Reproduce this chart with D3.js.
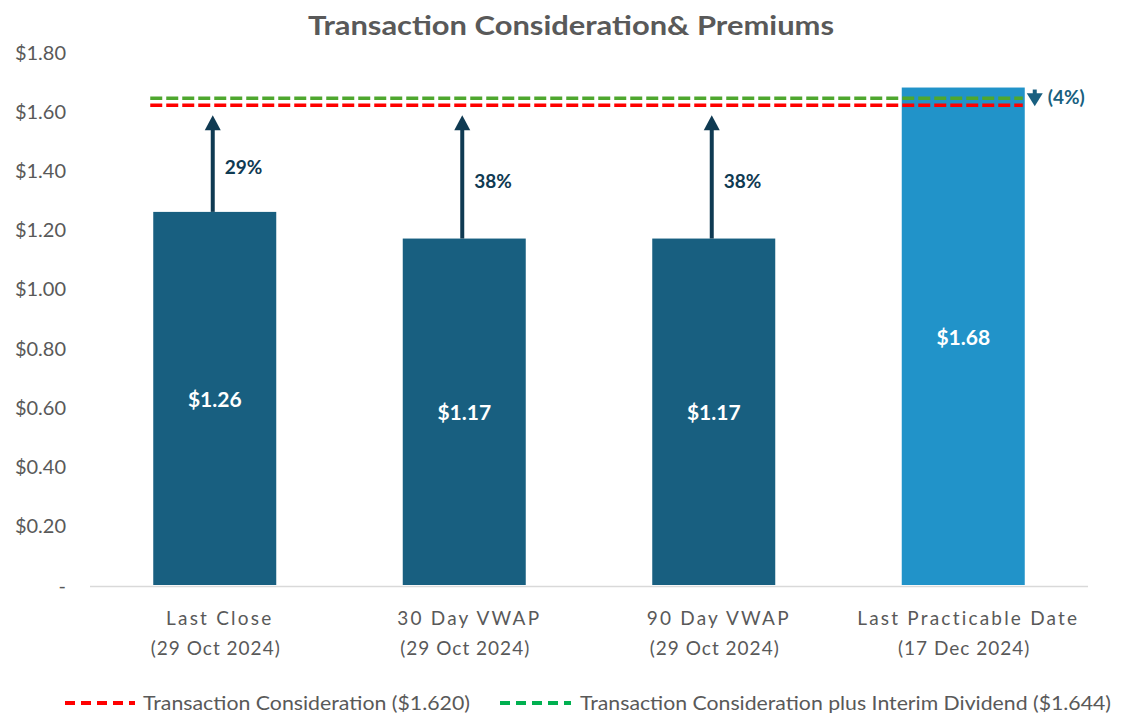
<!DOCTYPE html>
<html><head><meta charset="utf-8">
<script src="https://cdn.jsdelivr.net/npm/d3@7"></script>
<style>body{margin:0;background:#fff;} text{font-family:Lato,"Open Sans",sans-serif;}</style>
</head><body>
<svg id="c" width="1126" height="713"></svg>
<script>
const categories = [["Last Close","(29 Oct 2024)"],["30 Day VWAP","(29 Oct 2024)"],["90 Day VWAP","(29 Oct 2024)"],["Last Practicable Date","(17 Dec 2024)"]];
const prices = [1.26, 1.17, 1.17, 1.68];
const valueLabels = ["$1.26","$1.17","$1.17","$1.68"];
const premiums = ["29%","38%","38%","(4%)"];
const yTicks = [0,0.2,0.4,0.6,0.8,1.0,1.2,1.4,1.6,1.8];
const considerationValue = 1.620;
const dividendValue = 1.644;
const legendLabels = ["Transaction Consideration ($1.620)","Transaction Consideration plus Interim Dividend ($1.644)"];

const svg = d3.select("#c");
const grey = "#595959";
const y = d3.scaleLinear().domain([0,1.8]).range([585,52]);
const x = d3.scaleBand().domain(d3.range(categories.length)).range([90,1088]).paddingInner(0.507).paddingOuter(0.2535);

svg.append("text").attr("x",571).attr("y",35).attr("text-anchor","middle")
  .attr("font-size",26).attr("font-weight","bold").attr("fill",grey)
  .attr("textLength",526).attr("lengthAdjust","spacingAndGlyphs")
  .text("Transaction Consideration& Premiums");

// y axis labels
const yAxis = d3.axisLeft(y).tickValues(yTicks).tickSize(0).tickPadding(0)
  .tickFormat(d => d===0 ? "-" : "$"+d3.format(".2f")(d));
const ga = svg.append("g").attr("transform","translate(66,0)").call(yAxis);
ga.select(".domain").remove();
ga.selectAll("text").attr("font-size",20).attr("fill",grey).attr("font-family","Lato,'Open Sans',sans-serif").attr("dy","0.35em");

// baseline
svg.append("line").attr("x1",90).attr("x2",1088).attr("y1",y(0)+1.5).attr("y2",y(0)+1.5).attr("stroke","#d9d9d9").attr("stroke-width",1.5);

// bars
const colors = ["#185f80","#185f80","#185f80","#2193c9"];
svg.selectAll("rect.bar").data(prices).join("rect").attr("class","bar")
  .attr("x",(d,i)=>x(i)).attr("width",x.bandwidth())
  .attr("y",d=>y(d)).attr("height",d=>y(0)-y(d)).attr("fill",(d,i)=>colors[i]);

svg.selectAll("text.val").data(prices).join("text").attr("class","val")
  .attr("x",(d,i)=>x(i)+x.bandwidth()/2).attr("y",d=>(y(d)+y(0))/2+1).attr("dy","0.35em")
  .attr("text-anchor","middle").attr("fill","#fff").attr("font-weight","bold").attr("font-size",21)
  .text((d,i)=>valueLabels[i]);

// x labels
categories.forEach((c,i)=>{
  const cx = x(i)+x.bandwidth()/2;
  c.forEach((line,j)=>{
    svg.append("text").attr("x",cx+(j===0?5:1)).attr("y",625+j*30).attr("text-anchor","middle")
      .attr("font-size",19).attr("fill",grey).attr("letter-spacing",j===0?2.2:1).text(line);
  });
});

// reference lines
const lx1 = x(0)-3, lx2 = x(3)+x.bandwidth()-2;
svg.append("line").attr("x1",lx1).attr("x2",lx2).attr("y1",y(dividendValue)).attr("y2",y(dividendValue))
  .attr("stroke","#4ea72e").attr("stroke-width",3.5).attr("stroke-dasharray","12,4");
svg.append("line").attr("x1",lx1).attr("x2",lx2).attr("y1",y(considerationValue)).attr("y2",y(considerationValue))
  .attr("stroke","#ff0000").attr("stroke-width",3.5).attr("stroke-dasharray","12,4");

// up arrows
const navy = "#0f3a52";
prices.slice(0,3).forEach((p,i)=>{
  const ax = x(i)+x.bandwidth()/2-2;
  const tip = y(considerationValue)+10;
  svg.append("line").attr("x1",ax).attr("x2",ax).attr("y1",y(p)).attr("y2",tip+12).attr("stroke",navy).attr("stroke-width",4);
  svg.append("path").attr("d",`M${ax},${tip} L${ax-8},${tip+15} L${ax+8},${tip+15} Z`).attr("fill",navy);
  svg.append("text").attr("x",ax+12).attr("y",(y(p)+tip)/2+4).attr("dy","0.35em").attr("fill",navy)
    .attr("font-weight","bold").attr("font-size",19).text(premiums[i]);
});

// down arrow
{
  const ax = x(3)+x.bandwidth()+10;
  const top = y(prices[3])+2, tip = y(considerationValue)+1;
  svg.append("line").attr("x1",ax).attr("x2",ax).attr("y1",top).attr("y2",tip-8).attr("stroke","#185f80").attr("stroke-width",4);
  svg.append("path").attr("d",`M${ax},${tip} L${ax-8},${tip-13} L${ax+8},${tip-13} Z`).attr("fill","#185f80");
  svg.append("text").attr("x",ax+13).attr("y",y(prices[3])+10).attr("dy","0.35em").attr("fill","#185f80")
    .attr("font-weight","bold").attr("font-size",19).text(premiums[3]);
}

// legend
const leg = [{c:"#ff0000",x1:65,x2:135,tx:143,w:327},{c:"#00b050",x1:500,x2:571,tx:580,w:531}];
leg.forEach((l,i)=>{
  svg.append("line").attr("x1",l.x1).attr("x2",l.x2).attr("y1",703).attr("y2",703).attr("stroke",l.c)
    .attr("stroke-width",4).attr("stroke-dasharray","10,6");
  svg.append("text").attr("x",l.tx).attr("y",703).attr("dy","0.35em").attr("font-size",19).attr("fill",grey)
    .attr("textLength",l.w).attr("lengthAdjust","spacingAndGlyphs").text(legendLabels[i]);
});
</script>
</body></html>
